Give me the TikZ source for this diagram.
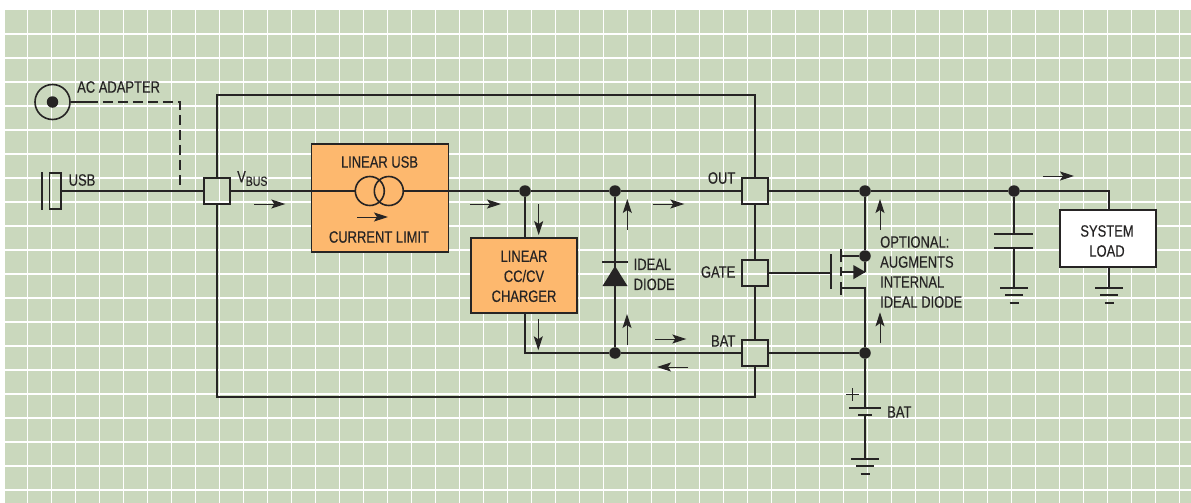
\documentclass[tikz,border=0pt]{standalone}
\usepackage{fontspec}
\setmainfont[FakeStretch=0.79,FakeBold=0.25]{Liberation Sans}
\usetikzlibrary{arrows.meta}
\definecolor{gridgreen}{RGB}{202,216,189}
\definecolor{boxorange}{RGB}{253,184,110}
\definecolor{inkdark}{RGB}{38,36,36}
\tikzset{
	wire/.style={draw=inkdark,line width=1.8pt},
	gridline/.style={draw=white,line width=1.2pt},
	pad/.style={draw=inkdark,line width=1.8pt,rectangle,minimum size=26pt,inner sep=0pt},
	dot/.style={fill=inkdark,circle,minimum size=11.5pt,inner sep=0pt},
	block/.style={draw=inkdark,line width=1.8pt,fill=boxorange,rectangle,inner sep=0pt},
	coil/.style={draw=inkdark,line width=1.6pt,circle,minimum size=29pt,inner sep=0pt},
	caption/.style={text=inkdark,inner sep=0pt,font=\fontsize{16.4}{20}\selectfont,align=left},
	centred/.style={caption,align=center},
	flow/.style={draw=inkdark,line width=1pt,-{Stealth[length=14pt,width=9pt,inset=3pt]}}
}
\begin{document}
\begin{tikzpicture}[x=1pt,y=-1pt]
		\def\ytop{191}
		\def\ybat{353}
		\def\ygate{273}
		\useasboundingbox (0,0) rectangle (1191,503);
		% background and its grid
		\fill[gridgreen] (4.5,10) rectangle (1191,503);
		\foreach \x in {0,...,48} \draw[gridline] (27.3+24*\x,10) -- (27.3+24*\x,503);
		\foreach \y in {0,...,19} \draw[gridline] (4.5,34+24*\y) -- (1191,34+24*\y);
		% inputs
		\node[draw=inkdark,line width=1.6pt,circle,minimum size=35pt,inner sep=0pt] (jack) at (52.5,102) {};
		\node[dot] (jackpin) at (jack) {};
		\coordinate (acturn) at (180,102);
		\coordinate (acjoin) at (180,\ytop);
		\node[draw=inkdark,line width=1.6pt,rectangle,minimum width=11.5pt,minimum height=36pt,inner sep=0pt] (usb) at (55.3,191) {};
		\coordinate (usbbara) at (42,172); \coordinate (usbbarb) at (42,210);
		\draw[wire] (usbbara) -- (usbbarb);
		\node[caption,anchor=west] (aclabel) at (77,87) {AC ADAPTER};
		\node[caption,anchor=west] (usblabel) at (68.5,180) {USB};
		% the four pads
		\node[pad] (vbus) at (217,\ytop) {};
		\node[pad] (out) at (755,\ytop) {};
		\node[pad] (gate) at (755,\ygate) {};
		\node[pad] (bat) at (755,\ybat) {};
		\node[caption,anchor=west] (vbuslabel) at (237,178.5) {V\raisebox{-3.5pt}{\fontsize{13.3}{13}\selectfont BUS}};
		\node[caption,anchor=east] (outlabel) at (735.5,178) {OUT};
		\node[caption,anchor=east] (gatelabel) at (735.5,272) {GATE};
		\node[caption,anchor=east] (batlabel) at (735.5,341) {BAT};
		% the blocks
		\node[block,minimum width=137pt,minimum height=108pt] (usbblock) at (380,198) {};
		\node[centred] (usbtop) at (379.5,162) {LINEAR USB};
		\node[centred] (usbbottom) at (379,237) {CURRENT LIMIT};
		\node[coil] (coila) at (369.8,\ytop) {};
		\node[coil] (coilb) at (388.8,\ytop) {};
		\node[block,minimum width=106pt,minimum height=75pt] (charger) at (524,275.3) {};
		\node[centred] (chargertext) at (524,276.3) {LINEAR\\CC/CV\\CHARGER};
		\node[draw=inkdark,line width=1.8pt,fill=white,rectangle,minimum width=96pt,minimum height=57pt,inner sep=0pt] (load) at (1108.3,238.5) {};
		\node[centred] (loadtext) at (1107,241) {SYSTEM\\LOAD};
		% junctions
		\node[dot] (na) at (525,\ytop) {};
		\node[dot] (nb) at (615,\ytop) {};
		\node[dot] (nc) at (865,\ytop) {};
		\node[dot] (nd) at (1014,\ytop) {};
		\node[dot] (ne) at (615,\ybat) {};
		\node[dot] (nf) at (865,\ybat) {};
		\node[dot] (ng) at (865,256) {};
		% rails
		\coordinate (railtop) at (217,95); \coordinate (railbottom) at (217,397);
		\coordinate (chargerturn) at (525,\ybat);
		\coordinate (loadturn) at (1109,\ytop);
		\draw[wire] (jack.east) -- ++(27,0);
		\draw[wire,dash pattern=on 10pt off 5pt] (jack.east)++(32,0) -- (acturn) -- (acjoin);
		\draw[wire] (usb.east) -- (vbus.west);
		\draw[wire] (vbus.north) |- (railtop) -| (out.north);
		\draw[wire] (vbus.south) |- (railbottom) -| (bat.south);
		\draw[wire] (vbus.east) -- (coila.west);
		\draw[wire] (coilb.east) -- (na) -- (nb) -- (out.west);
		\draw[wire] (out.east) -- (nc) -- (nd) -- (loadturn) -- (load.north -| loadturn);
		\draw[wire] (out.south) -- (gate.north);
		\draw[wire] (gate.south) -- (bat.north);
		\draw[wire] (na) -- (na |- charger.north);
		\draw[wire] (charger.south -| chargerturn) -- (chargerturn) -- (ne) -- (bat.west);
		\draw[wire] (bat.east) -- (nf);
		\draw[wire] (nb) -- (ne);
		% ideal diode
		\coordinate (diodebar) at (615,262);
		\draw[wire] (602,262) -- (628,262);
		\fill[inkdark] (615,266) -- (627.5,286) -- (602.5,286) -- cycle;
		\node[caption,anchor=north west] (diodelabel) at (633.5,258.5) {IDEAL\\DIODE};
		% the optional fet
		\coordinate (fetup) at (841,256); \coordinate (fetmid) at (841,272); \coordinate (fetdown) at (841,288);
		\coordinate (fetlow) at (865,288);
		\draw[wire] (gate.east) -- (831,\ygate);
		\draw[wire] (831,254) -- (831,289);
		\draw[wire] (841,249) -- (841,262);
		\draw[wire] (841,267) -- (841,276);
		\draw[wire] (841,282) -- (841,295);
		\draw[wire] (fetup) -- (ng);
		\draw[wire] (fetmid) -- (865,272);
		\draw[wire] (fetdown) -- (fetlow) -- (nf);
		\draw[wire] (nc) -- (ng) -- (865,272);
		\fill[inkdark] (853.3,265) -- (865.5,272) -- (853.3,279.3) -- cycle;
		\node[caption,anchor=north west] (fetlabel) at (880,236) {OPTIONAL:\\AUGMENTS\\INTERNAL\\IDEAL DIODE};
		% battery
		\coordinate (batplate) at (865,408); \coordinate (batplateb) at (865,415); \coordinate (gndbat) at (865,459);
		\draw[wire] (nf) -- (batplate);
		\draw[wire] (849,408) -- (881,408);
		\draw[wire] (858,415) -- (872,415);
		\draw[wire] (batplateb) -- (gndbat);
		\draw[wire] (846,394.5) -- (859,394.5); \draw[wire] (852.5,388) -- (852.5,401);
		\node[caption,anchor=west] (batcell) at (887,412) {BAT};
		% capacitor
		\coordinate (capa) at (1014,234); \coordinate (capb) at (1014,248); \coordinate (gndcap) at (1014,288);
		\draw[wire] (nd) -- (capa);
		\draw[wire] (994,234) -- (1033,234);
		\draw[wire] (994,248) -- (1033,248);
		\draw[wire] (capb) -- (gndcap);
		\coordinate (gndload) at (1109,288);
		\draw[wire] (load.south -| gndload) -- (gndload);
		% the three grounds
		\foreach \x/\y in {865/459,1014/288,1109/288} {
			\draw[wire] (\x-14,\y) -- (\x+14,\y);
			\draw[wire] (\x-9,\y+7) -- (\x+9,\y+7);
			\draw[wire] (\x-4.5,\y+15) -- (\x+4.5,\y+15);
		}
		% current arrows
		\foreach \x/\y/\a in {254.3/204/0,470/204/0,653.3/204/0,655.3/339/0,1043/176/0,357/217/0,
			688/367/180,538.7/204/90,538.3/319.3/90,627.3/230/-90,627/345/-90,880/230/-90,880/343.3/-90}
			\draw[flow,shift={(\x,\y)}] (0,0) -- ++(\a:31);
\end{tikzpicture}
\end{document}
